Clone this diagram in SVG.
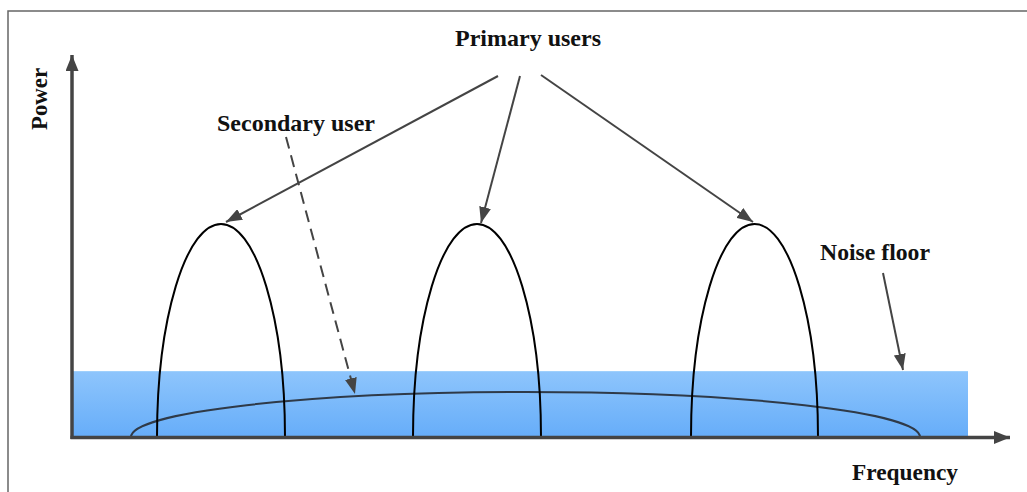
<svg xmlns="http://www.w3.org/2000/svg" width="1027" height="492" viewBox="0 0 1027 492">
<style>
.lbl{font-family:"Liberation Serif","Times New Roman",serif;font-weight:bold;font-size:23px;fill:#111}
.hump{fill:none;stroke:#000;stroke-width:2}
.conn{fill:none;stroke:#444;stroke-width:2}
.axis{fill:none;stroke:#444;stroke-width:3.5}
</style>
<defs>
<linearGradient id="noise" x1="0" y1="0" x2="0" y2="1">
<stop offset="0" stop-color="#8ec5fc"/>
<stop offset="1" stop-color="#66adf9"/>
</linearGradient>
<marker id="ahs" viewBox="0 0 10 10" refX="10" refY="5" markerWidth="16" markerHeight="12" orient="auto" markerUnits="userSpaceOnUse" preserveAspectRatio="none">
<path d="M0,0 L10,5 L0,10 z" fill="#444"/>
</marker>
<marker id="axh" viewBox="0 0 10 10" refX="10" refY="5" markerWidth="16" markerHeight="13" orient="auto" markerUnits="userSpaceOnUse" preserveAspectRatio="none">
<path d="M0,0 L10,5 L0,10 z" fill="#444"/>
</marker>
</defs>
<g id="frame">
<path d="M8,492 V11 H1027" fill="none" stroke="#666" stroke-width="1.5"/>
</g>
<g id="noise-floor">
<rect x="72" y="371" width="896" height="66" fill="url(#noise)"/>
<line x1="72" y1="371.5" x2="968" y2="371.5" stroke="#9fd0fc" stroke-width="1"/>
</g>
<g id="secondary-signal">
<path d="M131,437 A394.5,45 0 0 1 920,437" fill="none" stroke="#2f3a48" stroke-width="2"/>
</g>
<g id="primary-signal-1">
<path class="hump" d="M157,437 A64,213 0 0 1 285,437"/>
</g>
<g id="primary-signal-2">
<path class="hump" d="M413,437 A64,213 0 0 1 541,437"/>
</g>
<g id="primary-signal-3">
<path class="hump" d="M691,437 A63.5,213 0 0 1 818,437"/>
</g>
<g id="axes">
<line class="axis" x1="72" y1="439" x2="72" y2="55" marker-end="url(#axh)"/>
<line class="axis" x1="70.5" y1="437.5" x2="1010" y2="437.5" marker-end="url(#axh)"/>
</g>
<g id="connectors">
<line class="conn" x1="498" y1="76" x2="226" y2="222" marker-end="url(#ahs)"/>
<line class="conn" x1="520" y1="76" x2="481" y2="223" marker-end="url(#ahs)"/>
<line class="conn" x1="541" y1="75" x2="753" y2="222" marker-end="url(#ahs)"/>
<line class="conn" x1="286" y1="137" x2="355" y2="394" stroke-dasharray="12,7" marker-end="url(#ahs)"/>
<line class="conn" x1="883" y1="273" x2="903" y2="370" marker-end="url(#ahs)"/>
</g>
<g id="labels">
<text class="lbl" x="455" y="46" textLength="146" lengthAdjust="spacingAndGlyphs">Primary users</text>
<text class="lbl" x="217" y="131" textLength="158" lengthAdjust="spacingAndGlyphs">Secondary user</text>
<text class="lbl" x="820" y="260" textLength="110" lengthAdjust="spacingAndGlyphs">Noise floor</text>
<text class="lbl" x="852" y="480" textLength="106" lengthAdjust="spacingAndGlyphs">Frequency</text>
<text class="lbl" x="47" y="130" transform="rotate(-90 47 130)" textLength="62" lengthAdjust="spacingAndGlyphs">Power</text>
</g>
</svg>
